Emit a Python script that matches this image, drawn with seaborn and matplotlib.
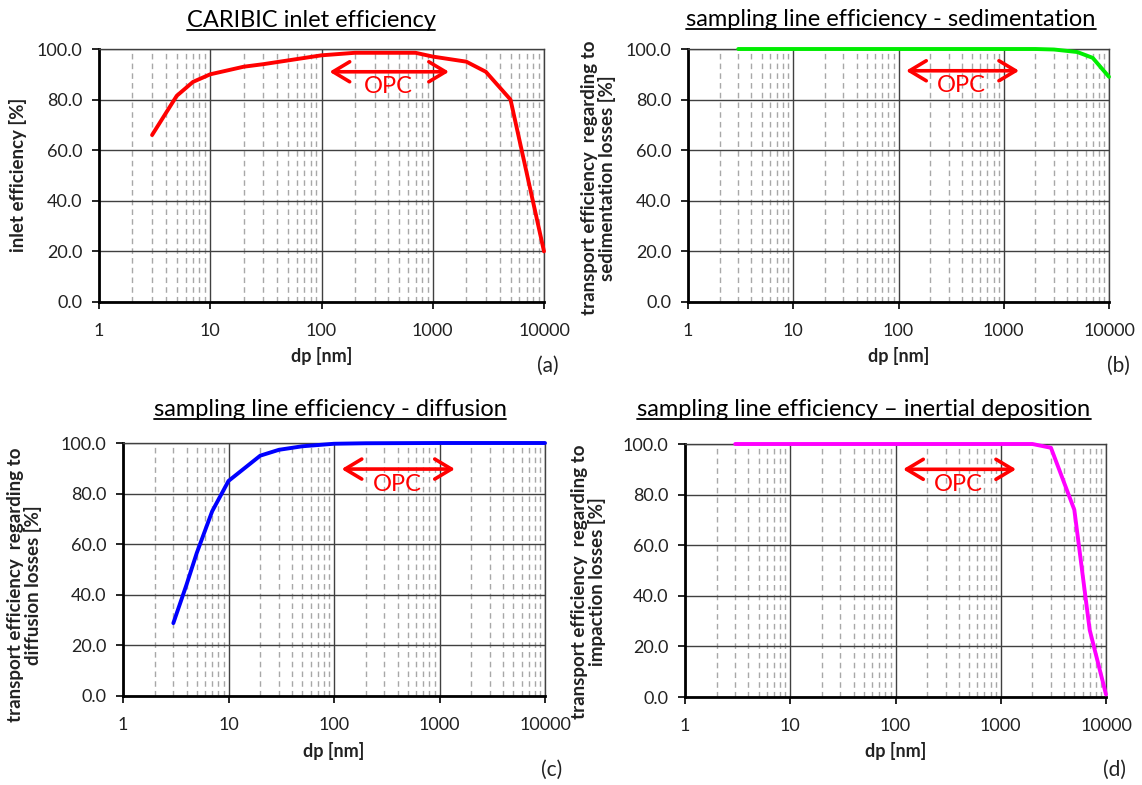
import matplotlib
matplotlib.use("Agg")
import matplotlib.pyplot as plt
from matplotlib.lines import Line2D
from matplotlib.ticker import FixedLocator, LogLocator, NullFormatter, FuncFormatter
import seaborn as sns
import pandas as pd

# Particle diameters [nm] and efficiencies [%] for each panel
inlet_dp = [3, 5, 7, 10, 20, 30, 100, 200, 700, 1000, 2000, 3000, 5000, 10000]
inlet_eff = [66, 81.5, 87, 90, 93, 94, 97.5, 98.5, 98.5, 97, 95, 91, 80, 20]

sed_dp = [3, 10, 100, 1000, 2000, 3000, 5000, 7000, 10000]
sed_eff = [100, 100, 100, 100, 100, 99.8, 98.8, 96.5, 89]

diff_dp = [3, 4, 5, 7, 10, 20, 30, 50, 100, 200, 1000, 10000]
diff_eff = [28.8, 44, 56.5, 73, 85, 95, 97.3, 98.7, 99.7, 99.9, 100, 100]

imp_dp = [3, 10, 100, 1000, 2000, 3000, 5000, 7000, 10000]
imp_eff = [100, 100, 100, 100, 100, 98.5, 74, 26.5, 1]

titles = [
    "CARIBIC inlet efficiency",
    "sampling line efficiency - sedimentation",
    "sampling line efficiency - diffusion",
    "sampling line efficiency \u2013 inertial deposition",
]
ylabels = [
    "inlet efficiency [%]",
    "transport efficiency  regarding to\nsedimentation losses [%]",
    "transport efficiency  regarding to\ndiffusion losses [%]",
    "transport efficiency  regarding to\nimpaction losses [%]",
]
panel_tags = ["(a)", "(b)", "(c)", "(d)"]
x_ticks = [1, 10, 100, 1000, 10000]
y_ticks = [0, 20, 40, 60, 80, 100]
opc_range = [118, 1400]

sns.set_theme(style="white")
plt.rcParams["font.family"] = ["Lato", "DejaVu Sans"]

W, H = 1142, 785
fig = plt.figure(figsize=(W / 100, H / 100), dpi=100)


def box(l, r, t, b):
    return [l / W, 1 - b / H, (r - l) / W, (b - t) / H]


axes_px = [(99, 544, 49, 302), (688, 1109, 49, 302), (123, 545, 443, 696), (685, 1106, 444, 697)]
series = [(inlet_dp, inlet_eff, "#ff0000"), (sed_dp, sed_eff, "#00ee00"),
          (diff_dp, diff_eff, "#0000ff"), (imp_dp, imp_eff, "#ff00ff")]
title_pos = [(311, 27), (891, 26), (330, 416), (864, 416)]
ylabel_pos = [(18, 175), (599, 178), (25, 585), (588, 582)]
xlabel_y = [356, 356, 751, 751]
opc_y = [91, 91.4, 89.7, 90]
tag_pos = [(548, 366), (1118, 366), (552, 770), (1115, 770)]

title_texts = []
for i, (l, r, t, b) in enumerate(axes_px):
    ax = fig.add_axes(box(l, r, t, b))
    dp, eff, col = series[i]
    df = pd.DataFrame({"dp": dp, "eff": eff})
    sns.lineplot(data=df, x="dp", y="eff", ax=ax, color=col, lw=2.8,
                 clip_on=False, zorder=5)
    ax.set_xscale("log")
    ax.set_xlim(1, 10000)
    ax.set_ylim(0, 100)

    ax.xaxis.set_major_locator(FixedLocator(x_ticks))
    ax.xaxis.set_major_formatter(FuncFormatter(lambda v, p: f"{int(round(v))}"))
    ax.xaxis.set_minor_locator(LogLocator(base=10, subs=range(2, 10)))
    ax.xaxis.set_minor_formatter(NullFormatter())
    ax.yaxis.set_major_locator(FixedLocator(y_ticks))
    ax.yaxis.set_major_formatter(FuncFormatter(lambda v, p: f"{v:.1f}"))

    ax.grid(which="major", axis="both", color="#404040", lw=1.0)
    ax.grid(which="minor", axis="x", color="#a8a8a8", lw=1.0, ls=(0, (4, 3)))
    ax.set_axisbelow(True)

    ax.tick_params(axis="both", which="major", direction="out", length=5,
                   width=1.2, color="black", labelsize=13, labelcolor="#222222")
    ax.tick_params(axis="x", which="major", pad=10, bottom=True)
    ax.tick_params(axis="y", which="major", pad=7, left=True)
    ax.tick_params(which="minor", length=0)

    for s in ["left", "bottom"]:
        ax.spines[s].set_color("black")
        ax.spines[s].set_linewidth(2.0)
    for s in ["top", "right"]:
        ax.spines[s].set_color("#404040")
        ax.spines[s].set_linewidth(1.0)

    ax.set_xlabel("dp [nm]", fontsize=13, fontweight="bold", color="#222222",
                  va="center")
    ax.xaxis.set_label_coords(0.5, -(xlabel_y[i] - b) / (b - t))
    ax.set_ylabel(ylabels[i], fontsize=13.5, fontweight="bold", color="#222222",
                  va="center", linespacing=1.0)
    lx, ly = ylabel_pos[i]
    ax.yaxis.set_label_coords((lx - l) / (r - l), (b - ly) / (b - t))

    # OPC measurement range marker
    ax.annotate("", xy=(opc_range[1], opc_y[i]), xytext=(opc_range[0], opc_y[i]),
                arrowprops=dict(arrowstyle="<->,head_length=1.0,head_width=0.6",
                                color="#ff0000", lw=2.6, shrinkA=0, shrinkB=0),
                zorder=6)
    ax.text(400, opc_y[i] - 6, "OPC", color="#ff0000", fontsize=17,
            ha="center", va="center", zorder=6)

    tx, ty = title_pos[i]
    tt = fig.text(tx / W, 1 - ty / H, titles[i], fontsize=17, ha="center",
                  va="baseline", color="black")
    title_texts.append(tt)

    fig.text(tag_pos[i][0] / W, 1 - tag_pos[i][1] / H, panel_tags[i],
             fontsize=15, ha="center", va="center", color="#222222")

# underline the panel titles
fig.canvas.draw()
renderer = fig.canvas.get_renderer()
for tt in title_texts:
    bb = tt.get_window_extent(renderer)
    y = (bb.y0 + 1.5) / H
    fig.add_artist(Line2D([bb.x0 / W, bb.x1 / W], [y, y], color="black", lw=1.3))

fig.savefig("out.png", dpi=100, facecolor="white")
